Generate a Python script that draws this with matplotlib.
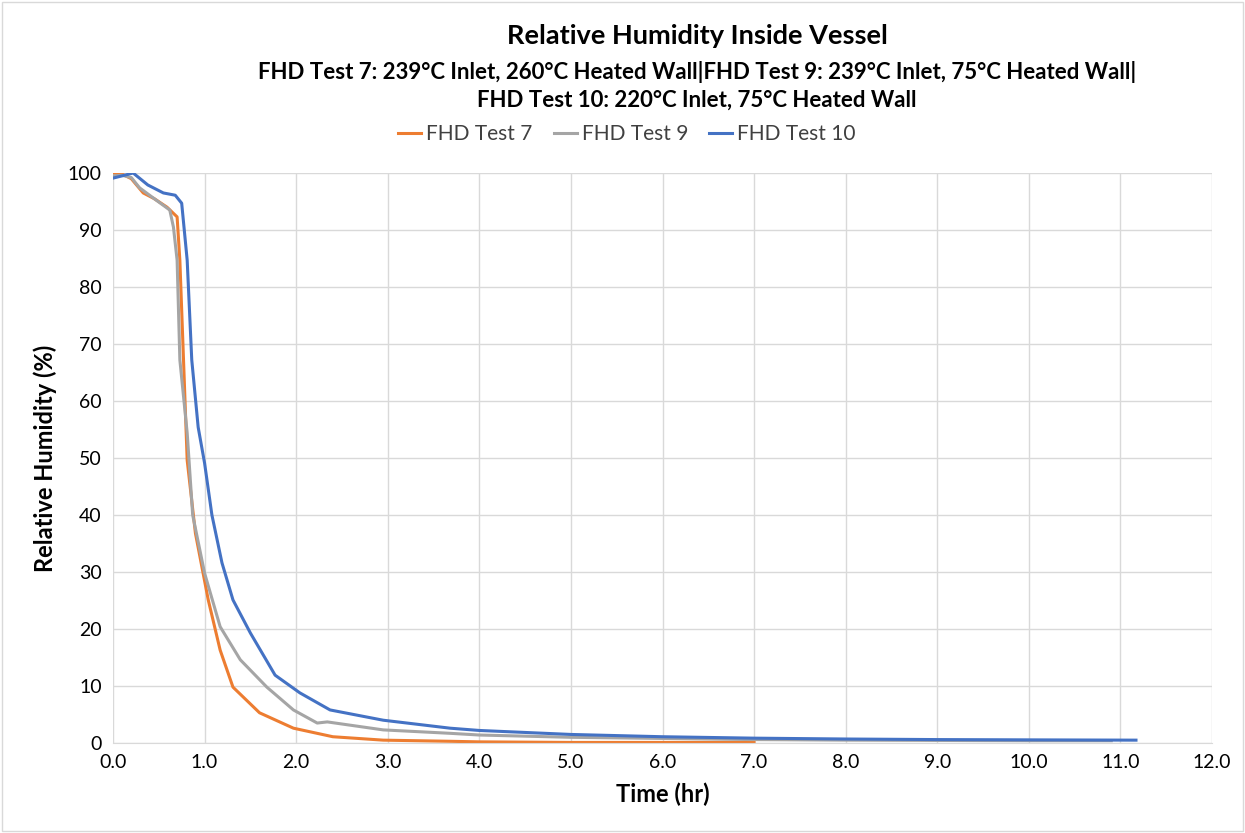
import matplotlib
matplotlib.use("Agg")
import matplotlib.pyplot as plt
from matplotlib.patches import Rectangle

plt.rcParams['font.family'] = ['Lato', 'DejaVu Sans']

# Data
t7 = [0.0, 0.10, 0.20, 0.33, 0.45, 0.59, 0.70, 0.73, 0.77, 0.81, 0.90, 1.04, 1.17, 1.31, 1.60, 1.97, 2.40, 2.95, 3.68, 4.0, 5.0, 6.0, 7.0]
rh7 = [100.0, 99.8, 99.0, 96.5, 95.5, 94.0, 92.3, 84.7, 67.2, 49.6, 36.8, 25.1, 16.3, 9.8, 5.3, 2.6, 1.1, 0.5, 0.3, 0.2, 0.1, 0.1, 0.1]

t9 = [0.0, 0.10, 0.20, 0.29, 0.45, 0.62, 0.66, 0.70, 0.73, 0.81, 0.87, 1.00, 1.17, 1.39, 1.68, 1.97, 2.23, 2.34, 2.95, 3.68, 4.0, 5.0, 6.0, 7.0, 8.0, 9.0, 10.0, 10.9]
rh9 = [99.5, 99.6, 99.2, 97.4, 95.5, 93.5, 90.5, 84.7, 67.2, 54.4, 40.0, 29.8, 20.4, 14.6, 9.8, 5.8, 3.5, 3.7, 2.3, 1.7, 1.4, 1.0, 0.8, 0.6, 0.5, 0.45, 0.4, 0.4]

t10 = [0.0, 0.10, 0.22, 0.38, 0.55, 0.68, 0.75, 0.81, 0.86, 0.93, 1.00, 1.08, 1.19, 1.31, 1.50, 1.77, 2.04, 2.37, 2.95, 3.68, 4.0, 5.0, 6.0, 7.0, 8.0, 9.0, 10.0, 11.17]
rh10 = [99.1, 99.5, 100.0, 97.9, 96.5, 96.1, 94.7, 84.7, 67.2, 55.4, 49.1, 40.0, 31.6, 25.1, 19.3, 11.9, 8.8, 5.8, 4.0, 2.6, 2.2, 1.5, 1.1, 0.85, 0.7, 0.6, 0.55, 0.5]

series = [
    ("FHD Test 7", t7, rh7, "#ED7D31"),
    ("FHD Test 9", t9, rh9, "#A5A5A5"),
    ("FHD Test 10", t10, rh10, "#4472C4"),
]

xticks = [0, 1, 2, 3, 4, 5, 6, 7, 8, 9, 10, 11, 12]
yticks = [0, 10, 20, 30, 40, 50, 60, 70, 80, 90, 100]

fig = plt.figure(figsize=(12.45, 8.33), dpi=100)
ax = fig.add_axes([113/1245, 1-743/833, (1212-113)/1245, (743-173)/833])

for name, t, rh, c in series:
    ax.plot(t, rh, color=c, lw=2.2, label=name, solid_joinstyle='round')

ax.set_xlim(0, 12)
ax.set_ylim(0, 100)
ax.set_xticks(xticks)
ax.set_xticklabels([f"{v:.1f}" for v in xticks])
ax.set_yticks(yticks)
ax.grid(True, color="#D9D9D9", lw=1.0)
ax.set_axisbelow(True)
for s in ["top", "right", "left"]:
    ax.spines[s].set_visible(False)
ax.spines["bottom"].set_color("#D9D9D9")
ax.tick_params(length=0, labelsize=14, colors="#000000", pad=8)

ax.set_xlabel("Time (hr)", fontsize=17, fontweight="bold", labelpad=8)
ax.set_ylabel("Relative Humidity (%)", fontsize=17, fontweight="bold", labelpad=8)

fig.text(697/1245, 1-36/833, "Relative Humidity Inside Vessel", ha="center", va="center",
         fontsize=19.5, fontweight="bold")
fig.text(697/1245, 1-72/833, "FHD Test 7: 239°C Inlet, 260°C Heated Wall|FHD Test 9: 239°C Inlet, 75°C Heated Wall|",
         ha="center", va="center", fontsize=16, fontweight="bold")
fig.text(697/1245, 1-100/833, "FHD Test 10: 220°C Inlet, 75°C Heated Wall", ha="center", va="center",
         fontsize=16, fontweight="bold")

leg = fig.legend(loc="center", bbox_to_anchor=(627/1245, 1-134/833), ncol=3, frameon=False,
                 fontsize=15, handlelength=1.1, handletextpad=0.25, columnspacing=1.0)
for txt in leg.get_texts():
    txt.set_color("#404040")

fig.patches.append(Rectangle((0.002, 0.002), 0.996, 0.996, transform=fig.transFigure,
                             fill=False, edgecolor="#D9D9D9", lw=1))

fig.savefig("out.png", dpi=100)
